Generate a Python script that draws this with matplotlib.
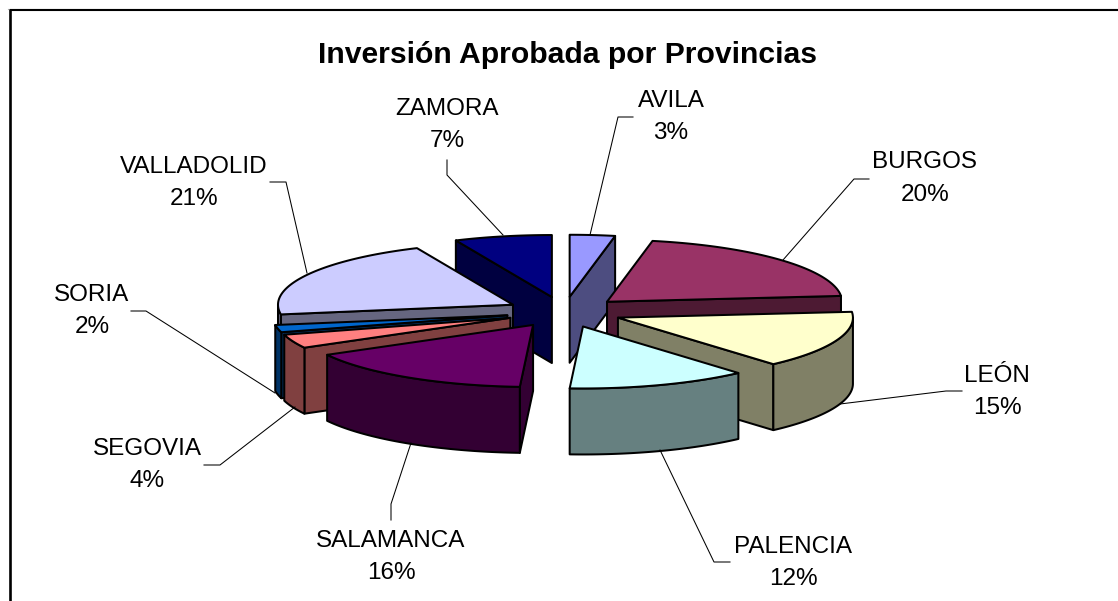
import numpy as np
import matplotlib
matplotlib.use('Agg')
import matplotlib.pyplot as plt
from matplotlib.patches import Polygon

plt.rcParams['font.family'] = ['Liberation Sans', 'DejaVu Sans']

# datos
provincias = ['AVILA', 'BURGOS', 'LEÓN', 'PALENCIA', 'SALAMANCA', 'SEGOVIA', 'SORIA', 'VALLADOLID', 'ZAMORA']
valores = [3.1, 20.4, 15.0, 12.4, 16.1, 3.6, 1.9, 20.8, 6.7]
titulo = 'Inversión Aprobada por Provincias'

# colores
color_cara = ['#9999FF', '#993366', '#FFFFCC', '#CCFFFF', '#660066', '#FF8080', '#0066CC', '#CCCCFF', '#000080']
color_lado = ['#4D4D80', '#4D1A33', '#808066', '#668080', '#330033', '#804040', '#003366', '#666680', '#000040']

# geometria del pastel, en pixeles de la imagen
CX, CY = 564, 312
RX, RY = 235, 62
ALTO = 66
SEPARACION = 58

# posicion de las etiquetas: x centro, linea base nombre, linea base porcentaje
pos_etiquetas = [
    (671, 107, 139), (925, 168, 201), (997, 382, 414),
    (793, 553, 585), (391, 547, 579), (147, 455, 487),
    (92, 301, 333), (194, 173, 205), (447, 115, 147),
]
# lineas guia
guias = [
    [(633, 117), (618, 117), (590, 235)],
    [(869, 179), (854, 179), (783, 260)],
    [(962, 391), (946, 391), (840, 404)],
    [(730, 562), (714, 562), (660, 450)],
    [(391, 520), (391, 504), (411, 443)],
    [(204, 465), (220, 465), (295, 407)],
    [(131, 311), (146, 311), (275, 393)],
    [(270, 182), (286, 182), (307, 273)],
    [(447, 160), (447, 175), (503, 235)],
]


def borde(ax0, ay0, ang):
    # angulo en grados, 0 arriba y sentido horario
    t = np.radians(ang)
    return np.column_stack([ax0 + RX * np.sin(t), ay0 - RY * np.cos(t)])


fig = plt.figure(figsize=(11.18, 6.01), dpi=100)
ax = fig.add_axes([0, 0, 1, 1])
ax.set_xlim(0, 1118)
ax.set_ylim(601, 0)
ax.axis('off')

# marco
ax.plot([8, 1118], [8.5, 8.5], color='#b0b0b0', lw=0.8)
ax.plot([9.5, 1118], [10, 10], color='black', lw=1.5, solid_capstyle='butt')
ax.plot([9.5, 9.5], [9, 601], color='black', lw=1.9, solid_capstyle='butt')

acum = np.cumsum([0] + valores) / sum(valores) * 360
medios = (acum[:-1] + acum[1:]) / 2

# primero los de atras
orden = np.argsort(-np.cos(np.radians(medios)))
z = 2
for i in orden:
    a0, a1 = acum[i], acum[i + 1]
    m = np.radians(medios[i])
    x0 = CX + SEPARACION * np.sin(m)
    y0 = CY - SEPARACION * np.cos(m) * RY / RX
    apice = np.array([[x0, y0]])
    abajo = np.array([0, ALTO])
    estilo = dict(edgecolor='black', linewidth=1.45, joinstyle='round')

    # caras radiales, solo las que miran hacia delante
    for a, normal in ((a0, a0 - 90), (a1, a1 + 90)):
        if -np.cos(np.radians(normal)) < 1e-6:
            continue
        p = borde(x0, y0, a)
        lado = np.vstack([apice, p, p + abajo, apice + abajo])
        ax.add_patch(Polygon(lado, closed=True, facecolor=color_lado[i], zorder=z, **estilo))
        z += 1

    # pared exterior, solo la parte de delante
    b0, b1 = max(a0, 90), min(a1, 270)
    if b1 > b0:
        arco = borde(x0, y0, np.linspace(b0, b1, 60))
        pared = np.vstack([arco, (arco + abajo)[::-1]])
        ax.add_patch(Polygon(pared, closed=True, facecolor=color_lado[i], zorder=z, **estilo))
        z += 1

    # cara de arriba
    arco = borde(x0, y0, np.linspace(a0, a1, 60))
    ax.add_patch(Polygon(np.vstack([apice, arco]), closed=True, facecolor=color_cara[i], zorder=z, **estilo))
    z += 1

# etiquetas
for nombre, v, (x, yn, yp), guia in zip(provincias, valores, pos_etiquetas, guias):
    ax.text(x, yn, nombre, ha='center', va='baseline', fontsize=17.5, color='black')
    ax.text(x, yp, f'{round(v)}%', ha='center', va='baseline', fontsize=17.5, color='black')
    g = np.array(guia)
    ax.plot(g[:, 0], g[:, 1], color='black', lw=0.75, zorder=z + 1)

ax.text(567, 63, titulo, ha='center', va='baseline', fontsize=21.7, fontweight='bold', color='black')

fig.savefig('out.png', dpi=100)
